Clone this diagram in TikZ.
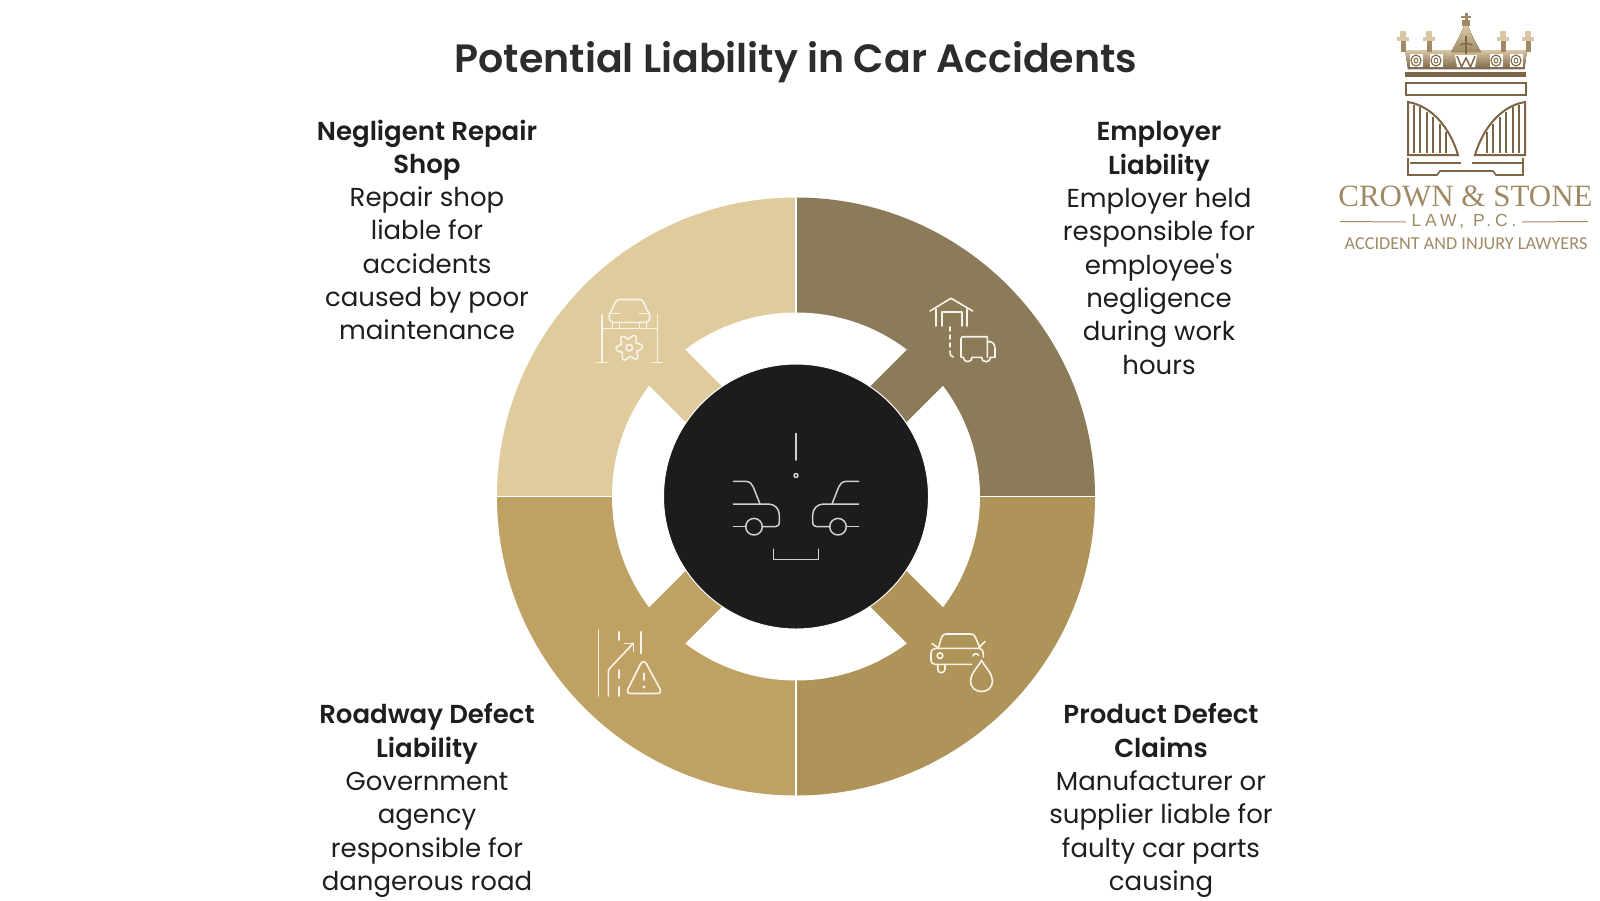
\documentclass[tikz,border=0pt]{standalone}
\usepackage{fontspec}
\setmainfont{Poppins}[BoldFont={Poppins SemiBold}]
\newfontfamily\ttlfont{Poppins SemiBold}
\newfontfamily\logoserif{Liberation Serif}
\newfontfamily\logosans{Carlito}
\newfontfamily\logolaw[LetterSpace=22]{Liberation Sans}
\definecolor{secTR}{HTML}{8B7B58}
\definecolor{secTL}{HTML}{DFCB9C}
\definecolor{secBL}{HTML}{BEA163}
\definecolor{secBR}{HTML}{AF9459}
\definecolor{hub}{HTML}{1C1C1C}
\definecolor{ink}{HTML}{1E1E1E}
\definecolor{titleink}{HTML}{2C2C2C}
\definecolor{gold}{HTML}{A08A66}
\definecolor{golddark}{HTML}{7C6544}
\definecolor{goldlight}{HTML}{D9C7A5}
\tikzset{
  lbl/.style={align=center,anchor=north,inner sep=0pt,text=ink,font=\fontsize{26}{33.3}\selectfont},
  ttl/.style={inner sep=0pt,text=titleink,font=\ttlfont\fontsize{39.5}{44}\selectfont},
  ico/.style={draw=#1,line width=1.6pt,line cap=round,line join=round,fill=none},
  ico/.default={white},
  hubline/.style={draw=white!82!black,line width=1.5pt,line cap=round,line join=round},
  logoline/.style={draw=golddark,line width=1.6pt},
}
\begin{document}
\begin{tikzpicture}[x=1pt,y=-1pt]
\useasboundingbox (0,0) rectangle (1600,900);
\fill[white] (0,0) rectangle (1600,900);
\coordinate (c) at (796,496.5);
% wheel sectors
\fill[secTR] (c) -- ++(-90:299) arc[start angle=-90,end angle=0,radius=299] -- cycle;
\fill[secBR] (c) -- ++(0:299) arc[start angle=0,end angle=90,radius=299] -- cycle;
\fill[secBL] (c) -- ++(90:299) arc[start angle=90,end angle=180,radius=299] -- cycle;
\fill[secTL] (c) -- ++(180:299) arc[start angle=180,end angle=270,radius=299] -- cycle;
\fill[white] (c) circle[radius=184];
\begin{scope}[shift={(c)}]
  \fill[secTR] (0,0) -- (36,0) -- (156,-120) -- (120,-156) -- (0,-36) -- cycle;
  \fill[secBR] (0,0) -- (36,0) -- (156,120) -- (120,156) -- (0,36) -- cycle;
  \fill[secBL] (0,0) -- (-36,0) -- (-156,120) -- (-120,156) -- (0,36) -- cycle;
  \fill[secTL] (0,0) -- (-36,0) -- (-156,-120) -- (-120,-156) -- (0,-36) -- cycle;
\end{scope}
\draw[white,line width=1.4pt] (796,197.5) -- (796,795.5) (497,496.5) -- (1095,496.5);
\fill[hub,draw=white,line width=1pt] (c) circle[radius=132.5];
% hub icon
\draw[hubline] (796,433.5) -- (796,460);
\draw[hubline] (796,475.5) circle[radius=2];
\foreach \s in {1,-1}{
\begin{scope}[shift={(796,0)},xscale=\s]
  \draw[hubline] (-62.7,481.3) -- (-51,481.3) .. controls (-46,481.3) and (-44,484) .. (-42.7,487) -- (-36,504);
  \draw[hubline] (-62.7,504) -- (-27.7,504) .. controls (-21,504) and (-16.7,509) .. (-16.7,515) -- (-16.7,521.7) .. controls (-16.7,525) and (-18,526.7) .. (-21,526.7) -- (-34,526.7);
  \draw[hubline] (-62.7,526.7) -- (-50.3,526.7);
  \draw[hubline] (-42,526.7) circle[radius=8.3];
\end{scope}}
\draw[hubline] (773.3,549.3) -- (773.3,559.3) -- (818.3,559.3) -- (818.3,549.3);
% lift icon
\tikzset{lifti/.style={ico=white!78!secTL}}
\draw[lifti] (601.7,315) -- (601.7,361.7) (657.3,315) -- (657.3,361.7);
\draw[lifti] (597,362.5) -- (607,362.5) (652,362.5) -- (662,362.5);
\draw[lifti] (601.7,328.3) -- (657.3,328.3);
\draw[lifti] (619,299.5) -- (640,299.5) .. controls (642,299.5) and (643,301) .. (644,303) -- (647,310) .. controls (651,313) and (651,322.3) .. (646,322.3) -- (613,322.3) .. controls (608,322.3) and (608,313) .. (612,310) -- (615,303) .. controls (616,301) and (617,299.5) .. (619,299.5) -- cycle;
\draw[lifti] (610,313.5) -- (620,313.5) (639,313.5) -- (649,313.5);
\draw[lifti] (612.5,322.3) -- (612.5,328.3) (619.5,322.3) -- (619.5,328.3) (639.5,322.3) -- (639.5,328.3) (646.5,322.3) -- (646.5,328.3);
\draw[lifti] plot[domain=0:360,samples=73,smooth] ({629.3+(11+2.4*cos(6*\x+30))*cos(\x)},{347.7+(11+2.4*cos(6*\x+30))*sin(\x)}) -- cycle;
\draw[lifti] (629.3,347.7) circle[radius=3.3];
% truck icon
\tikzset{trucki/.style={ico=white!78!secTL}}
\draw[trucki] (930,311) -- (951,298.3) -- (972.7,311);
\draw[trucki] (935.7,309) -- (935.7,326) (966.7,309) -- (966.7,326);
\draw[trucki] (941.7,326) -- (941.7,311.7) -- (961.7,311.7) -- (961.7,326);
\draw[trucki] (950,327) -- (950,331) (950,335) -- (950,339) (950,343) -- (950,347) (950,351) .. controls (950,355) and (951,357) .. (953.3,357);
\draw[trucki] (963.3,357.3) -- (961,357.3) -- (961,339) .. controls (961,337.5) and (962,336.7) .. (963,336.7) -- (987.3,336.7) -- (987.3,357.3) (972,357.3) -- (981.5,357.3);
\draw[trucki] (987.3,341.7) -- (990,341.7) .. controls (993,342) and (995,345) .. (995,349) -- (995,357.3) -- (990.5,357.3);
\draw[trucki] (963.3,357.3) arc[start angle=180,end angle=0,radius=4.4];
\draw[trucki] (981.5,357.3) arc[start angle=180,end angle=0,radius=4.5];
% road icon
\tikzset{roadi/.style={ico=white!78!secTL}}
\draw[roadi] (598.3,630) -- (598.3,696);
\draw[roadi] (619,631.7) -- (619,640) (619,670) -- (619,678.3) (619,686.7) -- (619,696);
\draw[roadi] (641,631.7) -- (641,653.3);
\draw[roadi] (608.3,696) -- (608.3,672) .. controls (608.3,670) and (609,669) .. (610,668) -- (633.3,643.3);
\draw[roadi] (625,643.3) -- (633.3,643.3) -- (633.3,651.7);
\draw[roadi] (640.5,664) .. controls (642,661) and (645,661) .. (646.5,664) -- (660,689) .. controls (661.5,692) and (660,693.5) .. (657,693.5) -- (631,693.5) .. controls (628,693.5) and (626.5,692) .. (628,689) -- cycle;
\draw[roadi] (644,673.3) -- (644,680);
\fill[white!78!secTL] (644,687) circle[radius=1.7];
% product icon
\tikzset{prodi/.style={ico=white!78!secTL}}
\draw[prodi] (938.3,648) -- (941.5,637.5) .. controls (942.5,635) and (944,634) .. (946,634) -- (971,634) .. controls (973,634) and (974.5,635) .. (975.5,637.5) -- (980,648);
\draw[prodi] (971.7,664.3) -- (935,664.3) .. controls (932,664.3) and (931,662) .. (931,660) -- (931,654) .. controls (931,650) and (933,648.3) .. (936,648.3) -- (979,648.3) .. controls (982,648.3) and (983.3,651) .. (983.3,654) -- (983.3,657);
\draw[prodi] (932,643.5) -- (938.5,648) (985,641.5) -- (978.5,648);
\draw[prodi] (937.7,664.3) -- (937.7,669) .. controls (937.7,674) and (945,674) .. (945,669) -- (945,664.3);
\draw[prodi] (940,655.7) circle[radius=2.8];
\draw[prodi] (973,656) .. controls (973.5,653) and (978,653) .. (978.5,655.5);
\draw[prodi] (981.5,660.5) .. controls (977,668) and (970.5,674) .. (970.5,681) .. controls (970.5,695) and (992.5,695) .. (992.5,681) .. controls (992.5,674) and (986,668) .. (981.5,660.5) -- cycle;
% title and labels
\node[ttl] (title) at (796,62) {Potential Liability in Car Accidents};
\node[lbl] (tl) at (427,119.5) {\textbf{Negligent Repair}\\\textbf{Shop}\\Repair shop\\liable for\\accidents\\caused by poor\\maintenance};
\node[lbl] (tr) at (1159,121.5) {\textbf{Employer}\\\textbf{Liability}\\Employer held\\responsible for\\employee\textquotesingle s\\negligence\\during work\\hours};
\node[lbl] (bl) at (427,703.5) {\textbf{Roadway Defect}\\\textbf{Liability}\\Government\\agency\\responsible for\\dangerous road};
\node[lbl] (br) at (1161,703.5) {\textbf{Product Defect}\\\textbf{Claims}\\Manufacturer or\\supplier liable for\\faulty car parts\\causing};
% logo
\fill[top color=goldlight,bottom color=golddark] (1405,50) -- (1527,50) -- (1524.5,69) -- (1408,69) -- cycle;
\fill[top color=goldlight,bottom color=gold] (1451,52) .. controls (1457,42) and (1461,33) .. (1464,26) -- (1468,26) .. controls (1471,33) and (1475,42) .. (1481,52) -- cycle;
\fill[gold] (1462,20) rectangle (1470,26);
\fill[gold] (1464.5,13) rectangle (1467.5,20);
\fill[gold] (1461,16) rectangle (1471,18);
\foreach \tx in {1403,1429,1503,1528}{
  \fill[gold] (\tx-2.5,40) rectangle (\tx+2.5,52);
  \fill[goldlight] (\tx-6,37) rectangle (\tx+6,41);
  \fill[goldlight] (\tx-3,31) rectangle (\tx+3,37);
}
\foreach \ox in {1416,1436,1496,1516}{
  \fill[white] (\ox-6.5,54) rectangle (\ox+6.5,67);
  \draw[golddark,line width=1.1pt] (\ox,60.5) circle[x radius=5,y radius=5.5];
  \draw[golddark,line width=.9pt] (\ox,60.5) circle[x radius=2,y radius=2.5];
}
\fill[white] (1455,55) -- (1477,55) -- (1475,67) -- (1457,67) -- cycle;
\draw[golddark,line width=1.4pt] (1457,56) -- (1461.5,67) -- (1466,58) -- (1470.5,67) -- (1475,56);
\draw[golddark,line width=1.4pt] (1466,36) -- (1466,54);
\draw[golddark,line width=1.2pt] (1460,45) .. controls (1463,43) and (1469,43) .. (1472,45);
\fill[golddark] (1405,72) rectangle (1526,76.7);
\draw[logoline] (1406,83) rectangle (1526,95);
\draw[logoline,line width=2pt] (1408,102) .. controls (1432,106) and (1450,128) .. (1458,155) -- (1408,155) -- cycle;
\draw[logoline,line width=2pt] (1525,102) .. controls (1501,106) and (1483,128) .. (1475,155) -- (1525,155) -- cycle;
\foreach \bx/\by in {1414/105,1420/107,1427/112,1433/117,1440/124,1446/132}{
  \draw[golddark,line width=1.4pt] (\bx,\by) -- (\bx,153);
  \draw[golddark,line width=1.4pt] (2933-\bx,\by) -- (2933-\bx,153);
}
\draw[logoline] (1410,163) -- (1461,163) (1472,163) -- (1523,163);
\draw[logoline] (1408,158) -- (1408,175) -- (1437,175) -- (1440,171) -- (1493,171) -- (1496,175) -- (1523,175) -- (1523,158);
\node[inner sep=0pt,text=gold,font=\logoserif\fontsize{31}{34}\selectfont] (logoname) at (1465.5,196) {CROWN \& STONE};
\node[inner sep=0pt,text=gold,font=\logolaw\fontsize{17.5}{20}\selectfont] (logolaw) at (1464,222) {LAW, P.C.};
\node[inner sep=0pt,text=gold,font=\logosans\fontsize{18.2}{20}\selectfont] (logotag) at (1466,243.5) {ACCIDENT AND INJURY LAWYERS};
\coordinate (ruleA) at (1340,221.5);
\coordinate (ruleB) at (1588,221.5);
\draw[gold,line width=1pt] (ruleA) -- (logolaw.west -| 1406,221.5);
\draw[gold,line width=1pt] (ruleB) -- (logolaw.east -| 1522,221.5);
\end{tikzpicture}
\end{document}
